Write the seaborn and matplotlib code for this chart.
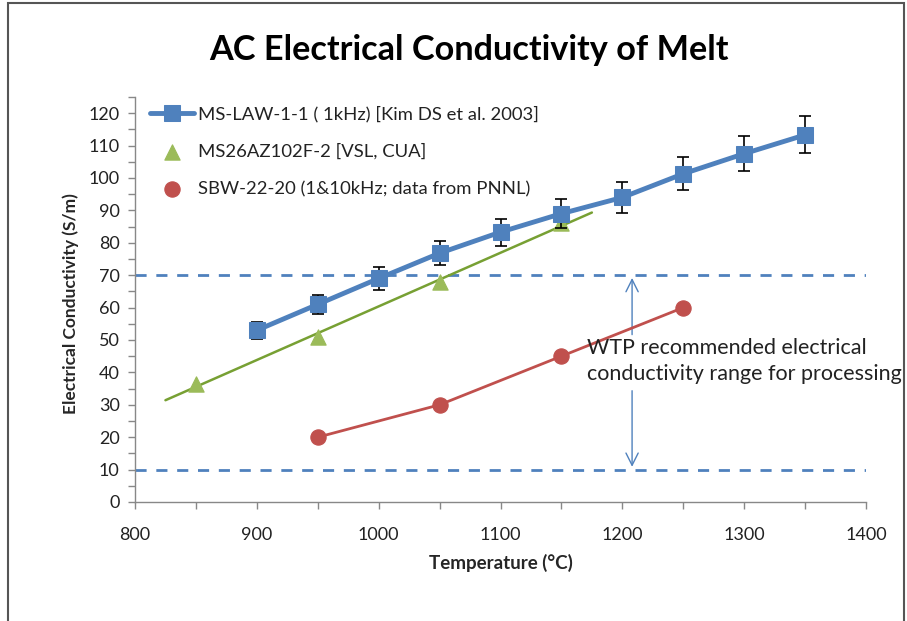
import numpy as np
import pandas as pd
import matplotlib
matplotlib.use("Agg")
import matplotlib.pyplot as plt
import seaborn as sns
from matplotlib.patches import Rectangle

# ---- data ----
law_temp = [900, 950, 1000, 1050, 1100, 1150, 1200, 1250, 1300, 1350]
law_ec = [53, 61, 69, 76.8, 83.3, 89, 94, 101.3, 107.5, 113.3]
law_err = [2.7, 3.0, 3.5, 3.8, 4.2, 4.5, 4.7, 5.1, 5.4, 5.7]

az_temp = [850, 950, 1050, 1150]
az_ec = [36.5, 51.0, 68.0, 86.0]

sbw_temp = [950, 1050, 1150, 1250]
sbw_ec = [20.0, 30.0, 45.0, 60.0]

range_low = 10
range_high = 70

xticks = [800, 900, 1000, 1100, 1200, 1300, 1400]
yticks = [0, 10, 20, 30, 40, 50, 60, 70, 80, 90, 100, 110, 120]

title = "AC Electrical Conductivity of Melt"
xlabel = "Temperature (°C)"
ylabel = "Electrical Conductivity (S/m)"
label_law = "MS-LAW-1-1 ( 1kHz) [Kim DS et al. 2003]"
label_az = "MS26AZ102F-2 [VSL, CUA]"
label_sbw = "SBW-22-20 (1&10kHz; data from PNNL)"
note = "WTP recommended electrical\nconductivity range for processing"

blue = "#4F81BD"
green = "#9BBB59"
red = "#C0504D"

sns.set_theme(style="white")
plt.rcParams["font.family"] = ["Lato", "DejaVu Sans"]

fig = plt.figure(figsize=(9.07, 6.21), dpi=100)
ax = fig.add_axes([135/907, 1-502/621, (866-135)/907, (502-97)/621])

df_law = pd.DataFrame({"T": law_temp, "EC": law_ec})
df_az = pd.DataFrame({"T": az_temp, "EC": az_ec})
df_sbw = pd.DataFrame({"T": sbw_temp, "EC": sbw_ec})

# range lines
ax.axhline(range_high, color=blue, lw=2, ls=(0, (4, 3.5)), zorder=1)
ax.axhline(range_low, color=blue, lw=2, ls=(0, (4, 3.5)), zorder=1)

# green trendline
coef = np.polyfit(az_temp, az_ec, 1)
tx = np.array([825, 1175])
ax.plot(tx, np.polyval(coef, tx), color="#77A033", lw=1.8, zorder=2)
sns.scatterplot(data=df_az, x="T", y="EC", ax=ax, marker="^", s=120,
                color=green, edgecolor=green, zorder=3, label=label_az)

# red line through points
ax.plot(sbw_temp, sbw_ec, color=red, lw=2, zorder=2)
sns.scatterplot(data=df_sbw, x="T", y="EC", ax=ax, marker="o", s=120,
                color=red, edgecolor=red, zorder=3, label=label_sbw)

# blue series with error bars
ax.errorbar(law_temp, law_ec, yerr=law_err, fmt="none", ecolor="black",
            elinewidth=1.2, capsize=4, capthick=1.2, zorder=4)
sns.lineplot(data=df_law, x="T", y="EC", ax=ax, color=blue, lw=3.5,
             marker="s", markersize=12, markeredgecolor=blue, zorder=5,
             label=label_law)

# arrows with gap for the text
ax.annotate("", xy=(1208, range_high), xytext=(1208, 50.8),
            arrowprops=dict(arrowstyle="->", color=blue, lw=1, mutation_scale=22), zorder=1)
ax.annotate("", xy=(1208, range_low), xytext=(1208, 35.2),
            arrowprops=dict(arrowstyle="->", color=blue, lw=1, mutation_scale=22), zorder=1)
ax.text(1171, 43.6, note, fontsize=15.5, color="#222222", va="center", ha="left",
        linespacing=1.4, clip_on=False, zorder=6)

ax.set_xlim(800, 1400)
ax.set_ylim(0, 125)
ax.set_xticks(xticks)
ax.set_yticks(yticks)
ax.set_xticks(np.arange(800, 1401, 50), minor=True)
ax.set_yticks(np.arange(0, 126, 5), minor=True)
ax.tick_params(axis="both", which="both", direction="out", length=5, width=1,
               color="#888888", labelsize=13, labelcolor="#222222")
ax.tick_params(axis="x", which="major", pad=13)
ax.tick_params(axis="y", which="major", pad=6)
ax.tick_params(bottom=True, left=True, which="both")
for s in ["top", "right"]:
    ax.spines[s].set_visible(False)
for s in ["left", "bottom"]:
    ax.spines[s].set_color("#888888")
    ax.spines[s].set_linewidth(1)

ax.set_xlabel(xlabel, fontsize=13.5, fontweight="bold", labelpad=8)
ax.set_ylabel(ylabel, fontsize=12.5, fontweight="bold")
ax.yaxis.set_label_coords((79 - 135) / 731, (502 - 304) / 405)

h, l = ax.get_legend_handles_labels()
order = [l.index(label_law), l.index(label_az), l.index(label_sbw)]
ax.legend([h[i] for i in order], [l[i] for i in order], loc="upper left",
          bbox_to_anchor=(-0.002, 1.02), frameon=False, fontsize=13.3,
          labelspacing=1.15, handlelength=2.4, handletextpad=0.2,
          labelcolor="#222222")

fig.text(469/907, 1-50/621, title, ha="center", va="center", fontsize=24.7,
         fontweight="bold", color="black")

fig.patches.append(Rectangle((8/907, -0.1), (904-8)/907, 1.1 - 3/621,
                             transform=fig.transFigure, fill=False,
                             edgecolor="#555555", lw=1.5))

fig.savefig("out.png", dpi=100)
